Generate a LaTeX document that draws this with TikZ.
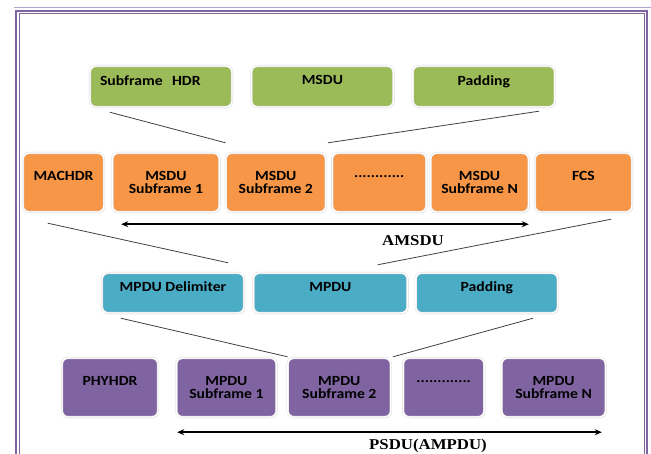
\documentclass[tikz,border=0pt]{standalone}
\usepackage{fontspec}
\newfontfamily\boxfont[FakeStretch=1.12]{Carlito}
\newfontfamily\spanfont[FakeStretch=1.12]{Liberation Serif}
\usetikzlibrary{positioning,shadows,arrows.meta}

\definecolor{msdugreen}{HTML}{9BBB59}
\definecolor{macorange}{HTML}{F79646}
\definecolor{mpduaqua}{HTML}{4BACC6}
\definecolor{phypurple}{HTML}{8064A2}
\definecolor{framelav}{HTML}{B3A2C7}

\begin{document}
\begin{tikzpicture}[x=1pt,y=-1pt,
    frm/.style={rounded corners=6pt,draw=black!15,double=white,double distance=1.4pt,line width=0.4pt,
        drop shadow={opacity=0.3,shadow xshift=0.8pt,shadow yshift=-1pt},
        align=center,inner sep=2pt,font=\boxfont\bfseries\fontsize{14}{12.5}\selectfont},
    msdubox/.style={frm,fill=msdugreen,minimum height=41pt},
    macbox/.style={frm,fill=macorange,minimum height=59pt},
    mpdubox/.style={frm,fill=mpduaqua,minimum height=40pt},
    phybox/.style={frm,fill=phypurple,minimum height=59pt},
    link/.style={draw=black!75,line width=0.8pt},
    span/.style={{Stealth[length=7pt,width=6pt]}-{Stealth[length=7pt,width=6pt]},line width=1.6pt},
    spanlabel/.style={anchor=base,inner sep=0pt,font=\spanfont\bfseries\fontsize{15}{15}\selectfont}]
    \useasboundingbox (0,0) rectangle (651,453);

    % page frame
    \draw[framelav,line width=1.5pt] (14,7.5) -- (651,7.5);
    \draw[phypurple,line width=2pt] (16,460) -- (16,10.5) -- (647,10.5) -- (647,460);
    \draw[phypurple,line width=1pt] (19,460) -- (19,13.5) -- (644,13.5) -- (644,460);

    % MSDU subframe
    \node[msdubox,minimum width=142pt,text width=122pt,align=left] (s1) at (161,86.5) {Subframe\ \ HDR\\\mbox{}};
    \node[msdubox,minimum width=142pt,right=19pt of s1] (s2) {MSDU\\\mbox{}};
    \node[msdubox,minimum width=142pt,right=19pt of s2] (s3) {Padding\\\mbox{}};

    % MAC frame
    \node[macbox,minimum width=81pt] (m1) at (63.5,182.5) {MACHDR\\\mbox{}};
    \node[macbox,minimum width=107pt,right=8pt of m1] (m2) {MSDU\\Subframe 1};
    \node[macbox,minimum width=100pt,right=6pt of m2] (m3) {MSDU\\Subframe 2};
    \node[macbox,minimum width=94pt,right=6pt of m3] (m4) {............\\\mbox{}};
    \node[macbox,minimum width=98pt,right=4pt of m4] (m5) {MSDU\\Subframe N};
    \node[macbox,minimum width=97pt,right=6pt of m5] (m6) {FCS\\\mbox{}};

    % MPDU subframe
    \node[mpdubox,minimum width=142pt] (d1) at (173,293) {MPDU Delimiter\\\mbox{}};
    \node[mpdubox,minimum width=154pt,right=9pt of d1] (d2) {MPDU\\\mbox{}};
    \node[mpdubox,minimum width=142pt,right=8pt of d2] (d3) {Padding\\\mbox{}};

    % PHY frame
    \node[phybox,minimum width=96pt] (p1) at (110,387.5) {PHYHDR\\\mbox{}};
    \node[phybox,minimum width=100pt,right=18pt of p1] (p2) {MPDU\\Subframe 1};
    \node[phybox,minimum width=103pt,right=11pt of p2] (p3) {MPDU\\Subframe 2};
    \node[phybox,minimum width=81pt,right=12pt of p3] (p4) {.............\\\mbox{}};
    \node[phybox,minimum width=104pt,right=17pt of p4] (p5) {MPDU\\Subframe N};

    \draw[link] ([xshift=20pt,yshift=-5pt]s1.south west) -- ([yshift=10pt]m3.north west);
    \draw[link] ([xshift=-16pt,yshift=-4pt]s3.south east) -- ([xshift=2pt,yshift=10pt]m3.north east);
    \draw[link] ([xshift=25pt,yshift=-11pt]m1.south west) -- ([xshift=-25pt,yshift=10pt]d2.north west);
    \draw[link] ([xshift=-21pt,yshift=-7pt]m6.south east) -- ([xshift=-30pt,yshift=8pt]d2.north east);
    \draw[link] ([xshift=19pt,yshift=-5pt]d1.south west) -- ([yshift=1pt]p3.north west);
    \draw[link] ([xshift=-25pt,yshift=-5pt]d3.south east) -- ([xshift=2pt,yshift=1pt]p3.north east);

    \draw[span] ([xshift=9pt,yshift=-12pt]m2.south west) -- ([yshift=-12pt]m5.south east);
    \node[spanlabel] (amsdu) at (413,245) {AMSDU};
    \draw[span] ([xshift=1pt,yshift=-15pt]p2.south west) -- ([xshift=-4pt,yshift=-15pt]p5.south east);
    \node[spanlabel] (psdu) at (428,449) {PSDU(AMPDU)};
\end{tikzpicture}
\end{document}
